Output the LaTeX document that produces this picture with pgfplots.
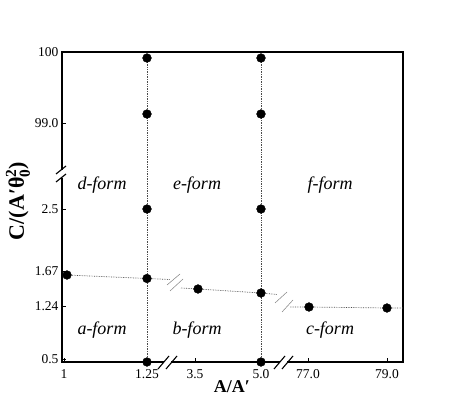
\documentclass[border=0pt]{standalone}
\usepackage{pgfplots}
\pgfplotsset{compat=1.18}
\usepackage{amsmath}
\usepackage{fontspec}
\setmainfont{Liberation Serif}

% broken axes: values are placed at axis positions, tick labels carry the real values
\pgfplotstableread{
x y
67 140
147 357
147 301
147 206
147 136.5
147 53
198 126
261 357
261 301
261 206
261 122
261 53
309 108
387 107
}\dots

\begin{document}
\begin{tikzpicture}
\useasboundingbox (0pt,0pt) rectangle (463pt,415pt);
\begin{axis}[
  at={(62pt,53pt)}, anchor=south west,
  scale only axis, width=341pt, height=310pt,
  xmin=62, xmax=403, ymin=53, ymax=363,
  axis line style={line width=1.1pt},
  tick style={line width=0.9pt, black},
  major tick length=4pt,
  tick align=inside,
  xtick pos=bottom, ytick pos=left,
  xtick={64,147,195,261,308,387},
  xticklabels={\textrm{1},\textrm{1.25},\textrm{3.5},\textrm{5.0},\textrm{77.0},\textrm{79.0}},
  ytick={56,109,144,206,292,363},
  yticklabels={\textrm{0.5},\textrm{1.24},\textrm{1.67},\textrm{2.5},\textrm{99.0},\textrm{100}},
  ticklabel style={font=\fontsize{13.5}{15}\selectfont},
  xticklabel style={yshift=-4pt},
  clip=false,
]
% dotted guide lines
\addplot[densely dotted, line width=0.7pt, black!70] coordinates {(147,53) (147,357)};
\addplot[densely dotted, line width=0.7pt, black!70] coordinates {(261,53) (261,357)};
\addplot[densely dotted, line width=0.7pt, black!70] coordinates {(67,140) (147,136.5) (170,135.5)};
\addplot[densely dotted, line width=0.7pt, black!70] coordinates {(181,127) (198,126) (261,122) (277,120.5)};
\addplot[densely dotted, line width=0.7pt, black!70] coordinates {(290,108) (309,108) (387,107) (403,107)};
% break marks on the dotted line
\draw[gray, line width=0.5pt] (axis cs:167,130) -- (axis cs:180,141);
\draw[gray, line width=0.5pt] (axis cs:170,124) -- (axis cs:183,136);
\draw[gray, line width=0.5pt] (axis cs:275,112) -- (axis cs:287,123);
\draw[gray, line width=0.5pt] (axis cs:282,103) -- (axis cs:293,115);
% data points
\addplot[only marks, mark=*, mark size=4.4pt, black] table {\dots};
% axis breaks
\fill[white] (axis cs:58,237) rectangle (axis cs:66,245);
\draw[line width=1.1pt] (axis cs:56,241) -- (axis cs:66,249);
\draw[line width=1.1pt] (axis cs:56,233) -- (axis cs:66,241);
\fill[white] (axis cs:164,49) rectangle (axis cs:171,57);
\draw[line width=1.1pt] (axis cs:158,46) -- (axis cs:169,59);
\draw[line width=1.1pt] (axis cs:166,46) -- (axis cs:177,59);
\fill[white] (axis cs:280,49) rectangle (axis cs:287,57);
\draw[line width=1.1pt] (axis cs:274,46) -- (axis cs:285,59);
\draw[line width=1.1pt] (axis cs:282,46) -- (axis cs:293,59);
% region labels
\begin{scope}[font=\fontsize{18}{20}\selectfont\itshape]
\node at (axis cs:102,230) {d-form};
\node at (axis cs:197,230) {e-form};
\node at (axis cs:330,230) {f-form};
\node at (axis cs:102,85) {a-form};
\node at (axis cs:197,85) {b-form};
\node at (axis cs:330,85) {c-form};
\end{scope}
\end{axis}
\node[font=\fontsize{18}{20}\selectfont\bfseries] at (232pt,28pt) {A/A′};
\node[rotate=90, font=\fontsize{22}{24}\selectfont\bfseries] at (18pt,214pt)
  {C/(A′θ$^{\text{\bfseries 2}}_{\text{\bfseries 0}}$)};
\end{tikzpicture}
\end{document}
